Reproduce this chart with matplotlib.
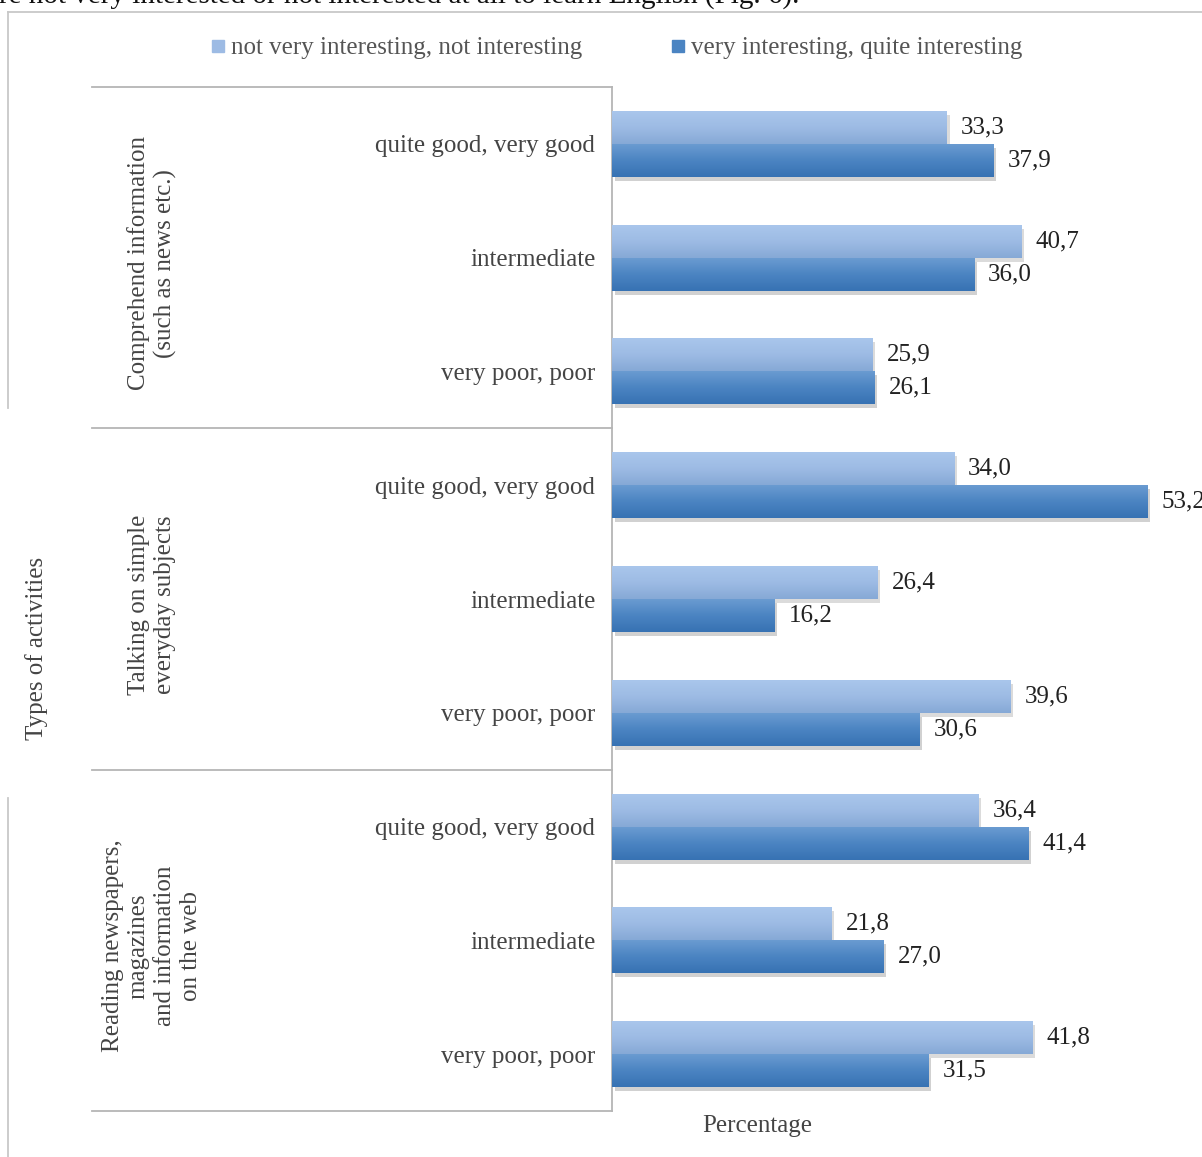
import numpy as np
import matplotlib
matplotlib.use("Agg")
import matplotlib.pyplot as plt
from matplotlib.lines import Line2D
from matplotlib.colors import LinearSegmentedColormap

plt.rcParams['font.family'] = ['Liberation Serif', 'DejaVu Serif']

# data
groups = ['Comprehend information\n(such as news etc.)',
          'Talking on simple\neveryday subjects',
          'Reading newspapers,\nmagazines\nand information\non the web']
levels = ['quite good, very good', 'intermediate', 'very poor, poor']
not_interesting = [33.3, 40.7, 25.9, 34.0, 26.4, 39.6, 36.4, 21.8, 41.8]
interesting = [37.9, 36.0, 26.1, 53.2, 16.2, 30.6, 41.4, 27.0, 31.5]
series_names = ['not very interesting, not interesting',
                'very interesting, quite interesting']

W, H = 1202, 1157
fig = plt.figure(figsize=(W / 100, H / 100), dpi=100)
ax = fig.add_axes([612 / W, (H - 1111) / H, (W - 612) / W, (1111 - 87) / H])

n = len(not_interesting)
y = np.arange(n)
bh = 0.29

light_cmap = LinearSegmentedColormap.from_list('l', ['#a9c6ec', '#9dbbe4', '#86a9d6'])
dark_cmap = LinearSegmentedColormap.from_list('d', ['#6a9bd1', '#4b84c2', '#3772b3'])

# shadows
ax.barh(y - bh / 2 + 0.035, not_interesting, height=bh, left=0.25, color='#9a9a9a', alpha=0.35, zorder=1)
ax.barh(y + bh / 2 + 0.035, interesting, height=bh, left=0.25, color='#9a9a9a', alpha=0.45, zorder=1)

b1 = ax.barh(y - bh / 2, not_interesting, height=bh, color='#9dbbe4', zorder=2)
b2 = ax.barh(y + bh / 2, interesting, height=bh, color='#4b84c2', zorder=2)

# vertical gradient like the original Excel bars
grad = np.linspace(0, 1, 64).reshape(-1, 1)
for bars, cmap in [(b1, light_cmap), (b2, dark_cmap)]:
    for p in bars:
        x0, y0, w, h = p.get_x(), p.get_y(), p.get_width(), p.get_height()
        ax.imshow(grad, cmap=cmap, aspect='auto', extent=(x0, x0 + w, y0 + h, y0),
                  zorder=3, interpolation='bilinear')

for bars, vals in [(b1, not_interesting), (b2, interesting)]:
    for p, v in zip(bars, vals):
        ax.text(v + 1.4, p.get_y() + p.get_height() / 2, f'{v:.1f}'.replace('.', ','),
                ha='left', va='center', fontsize=18, color='#222222', clip_on=False, zorder=5)

ax.set_xlim(0, 58.65)
ax.set_ylim(n - 0.5, -0.5)
ax.set_xticks([])
ax.set_yticks(y)
ax.set_yticklabels(levels * len(groups), fontsize=18, color='#444444')
ax.tick_params(axis='y', length=0, pad=12)
for s in ['top', 'right', 'bottom']:
    ax.spines[s].set_visible(False)
ax.spines['left'].set_color('#b5b5b5')
ax.spines['left'].set_linewidth(1.3)

# group dividers and labels
tr = ax.get_yaxis_transform()
for k in range(len(groups) + 1):
    yy = k * len(levels) - 0.5
    ax.plot([(92 - 612) / (W - 612), 0], [yy, yy], transform=tr, color='#b5b5b5',
            lw=1.3, clip_on=False)
for k, g in enumerate(groups):
    ax.text((152 - 612) / (W - 612), k * len(levels) + 1 + 0.05, g, transform=tr,
            rotation=90, ha='center', va='center', multialignment='center',
            fontsize=18, color='#444444', linespacing=1.25)

fig.text(37 / W, 1 - 648 / H, 'Types of activities', rotation=90, ha='center', va='center',
         fontsize=18, color='#444444')
fig.text(757 / W, 1 - 1126 / H, 'Percentage', ha='center', va='center',
         fontsize=18, color='#444444')

# legend
handles = [Line2D([], [], marker='s', ls='', ms=8, color='#9dbbe4'),
           Line2D([], [], marker='s', ls='', ms=8, color='#4b84c2')]
leg = fig.legend(handles, series_names, loc='center', bbox_to_anchor=(617 / W, 1 - 48 / H),
                 ncol=2, frameon=False, fontsize=18, handlelength=0.5, handletextpad=0.25,
                 columnspacing=3.6, borderaxespad=0)
for t in leg.get_texts():
    t.set_color('#555555')

# outer chart border (partly visible in the scan)
border = dict(color='#c8c8c8', lw=1.3, transform=fig.transFigure)
fig.add_artist(Line2D([8 / W, 1], [1 - 12 / H, 1 - 12 / H], **border))
fig.add_artist(Line2D([8 / W, 8 / W], [1 - 12 / H, 1 - 408 / H], **border))
fig.add_artist(Line2D([8 / W, 8 / W], [1 - 798 / H, 0], **border))

# cut-off line of body text above the figure
fig.text(-1 / W, 1 - 3 / H, 're not very interested or not interested at all to learn English (Fig. 6).',
         ha='left', va='baseline', fontsize=21, color='#111111')

fig.savefig('out.png', dpi=100)
